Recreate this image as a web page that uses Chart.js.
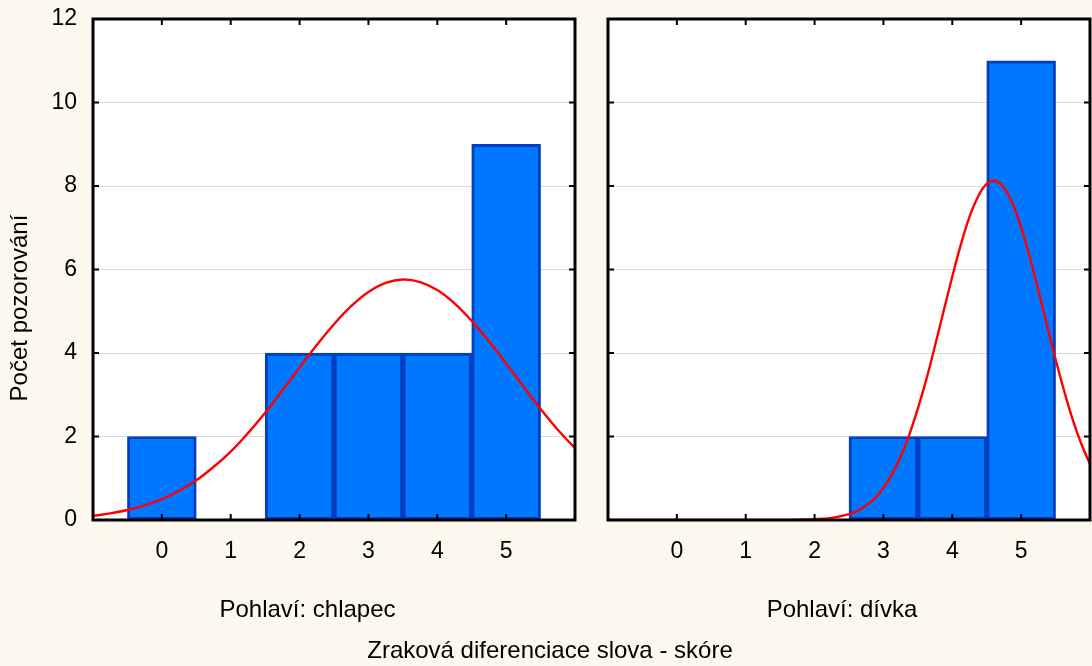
<!DOCTYPE html>
<html>
<head>
<meta charset="utf-8">
<script src="https://cdn.jsdelivr.net/npm/chart.js@4/dist/chart.umd.min.js"></script>
<style>
  html, body { margin: 0; padding: 0; }
  body { width: 1092px; height: 666px; background: #fdf8ee; position: relative; overflow: hidden;
         font-family: "Liberation Sans", Arial, sans-serif; color: #000; }
  canvas { position: absolute; top: 0; }
  #boys { left: 0; }
  #girls { left: 590px; }
  .label { position: absolute; font-size: 24px; line-height: 28px;
           white-space: nowrap; text-align: center; width: 500px; }
  #yTitle { width: 300px; height: 28px; left: -131px; top: 294px; transform: rotate(-90deg); }
</style>
</head>
<body>
<canvas id="boys" width="590" height="666"></canvas>
<canvas id="girls" width="502" height="666"></canvas>
<div class="label" style="left:57.5px; top:595px;">Pohlaví: chlapec</div>
<div class="label" style="left:592px; top:595px;">Pohlaví: dívka</div>
<div class="label" style="left:300px; top:636px;">Zraková diferenciace slova - skóre</div>
<div class="label" id="yTitle">Počet pozorování</div>
<script>
// Score categories and observed counts per group
const categories = [0, 1, 2, 3, 4, 5];
const xTickLabels = ['0', '1', '2', '3', '4', '5'];
const yTicks = [0, 2, 4, 6, 8, 10, 12];
const boysCounts = [2, 0, 4, 4, 4, 9];
const girlsCounts = [0, 0, 0, 2, 2, 11];

// Fitted normal curves (expected counts)
const boysCurveX = [-1, -0.75, -0.5, -0.25, 0, 0.25, 0.5, 0.75, 1, 1.25, 1.5, 1.75, 2, 2.25, 2.5,
                    2.75, 3, 3.25, 3.5, 3.75, 4, 4.25, 4.5, 4.75, 5, 5.25, 5.5, 5.75, 6];
const boysCurve = [0.10, 0.16, 0.24, 0.35, 0.50, 0.70, 0.95, 1.27, 1.64, 2.08, 2.57, 3.10, 3.65, 4.19, 4.69,
                   5.12, 5.46, 5.68, 5.76, 5.70, 5.51, 5.19, 4.77, 4.28, 3.75, 3.20, 2.66, 2.16, 1.72];
const girlsCurveX = [-1, -0.5, 0, 0.5, 1, 1.5, 2, 2.25, 2.5, 2.625, 2.75, 2.875, 3, 3.125, 3.25, 3.375,
                     3.5, 3.625, 3.75, 3.875, 4, 4.125, 4.25, 4.375, 4.5, 4.625, 4.75, 4.875,
                     5, 5.125, 5.25, 5.375, 5.5, 5.625, 5.75, 5.875, 6];
const girlsCurve = [0, 0, 0, 0, 0, 0, 0.02, 0.05, 0.14, 0.22, 0.35, 0.52, 0.77, 1.10, 1.52, 2.04,
                    2.67, 3.38, 4.18, 5.01, 5.83, 6.60, 7.26, 7.75, 8.05, 8.12, 7.96, 7.58,
                    7.01, 6.30, 5.50, 4.67, 3.85, 3.09, 2.40, 1.82, 1.34];

Chart.defaults.font.family = '"Liberation Sans", Arial, sans-serif';
Chart.defaults.font.size = 23;
Chart.defaults.color = '#000';

// White plot area, black frame and inward tick marks on all four sides
const panelFrame = {
  id: 'panelFrame',
  beforeDraw(chart) {
    const { ctx, chartArea: a } = chart;
    ctx.save();
    ctx.fillStyle = '#ffffff';
    ctx.fillRect(a.left, a.top, a.width, a.height);
    ctx.restore();
  },
  afterDraw(chart) {
    const { ctx, chartArea: a, scales: { x, y } } = chart;
    ctx.save();
    ctx.strokeStyle = '#000';
    ctx.lineWidth = 2;
    ctx.beginPath();
    categories.forEach(v => {
      const px = x.getPixelForValue(v);
      ctx.moveTo(px, a.top); ctx.lineTo(px, a.top + 6);
      ctx.moveTo(px, a.bottom); ctx.lineTo(px, a.bottom - 6);
    });
    yTicks.forEach(v => {
      const py = y.getPixelForValue(v);
      ctx.moveTo(a.left, py); ctx.lineTo(a.left + 6, py);
      ctx.moveTo(a.right, py); ctx.lineTo(a.right - 6, py);
    });
    ctx.stroke();
    ctx.lineWidth = 3;
    ctx.strokeRect(a.left, a.top, a.width, a.height);
    ctx.restore();
  }
};

// Keep tick labels from pushing the plot frame around
function noPadding(s) {
  s.paddingTop = 0; s.paddingBottom = 0; s.paddingLeft = 0; s.paddingRight = 0;
}

function makePanel(canvasId, counts, curveX, curve, opts) {
  return new Chart(document.getElementById(canvasId), {
    type: 'bar',
    data: {
      datasets: [
        {
          type: 'line',
          order: 0,
          data: curveX.map((v, i) => ({ x: v, y: curve[i] })),
          borderColor: '#ff0000',
          borderWidth: 2.4,
          pointRadius: 0,
          tension: 0.4,
          fill: false
        },
        {
          type: 'bar',
          order: 1,
          data: categories.map((c, i) => ({ x: c, y: counts[i] || null })),
          backgroundColor: '#0077ff',
          borderColor: '#0040c0',
          borderWidth: 3,
          borderSkipped: false,
          barPercentage: 1,
          categoryPercentage: 1
        }
      ]
    },
    options: {
      responsive: false,
      animation: false,
      devicePixelRatio: 1,
      layout: { padding: { top: 19, right: opts.padRight, left: 0, bottom: 0 } },
      plugins: { legend: { display: false }, tooltip: { enabled: false } },
      scales: {
        x: {
          type: 'linear',
          min: -1,
          max: 6,
          offset: false,
          grid: { display: false, drawTicks: false },
          border: { display: false },
          afterBuildTicks: s => { s.ticks = categories.map(v => ({ value: v })); },
          afterFit: s => { s.height = 146; noPadding(s); },
          ticks: {
            padding: 18,
            maxRotation: 0,
            autoSkip: false,
            callback: v => xTickLabels[categories.indexOf(v)]
          }
        },
        y: {
          type: 'linear',
          min: 0,
          max: 12,
          grid: {
            drawTicks: false,
            lineWidth: 1,
            color: c => (c.tick && (c.tick.value === 0 || c.tick.value === 12)) ? 'rgba(0,0,0,0)' : '#dcdcdc'
          },
          border: { display: false },
          afterBuildTicks: s => { s.ticks = yTicks.map(v => ({ value: v })); },
          afterFit: s => { s.width = opts.yWidth; noPadding(s); },
          ticks: { display: opts.showY, padding: 16 }
        }
      }
    },
    plugins: [panelFrame]
  });
}

makePanel('boys', boysCounts, boysCurveX, boysCurve, { padRight: 15, yWidth: 93, showY: true });
makePanel('girls', girlsCounts, girlsCurveX, girlsCurve, { padRight: 2, yWidth: 18, showY: false });
</script>
</body>
</html>
